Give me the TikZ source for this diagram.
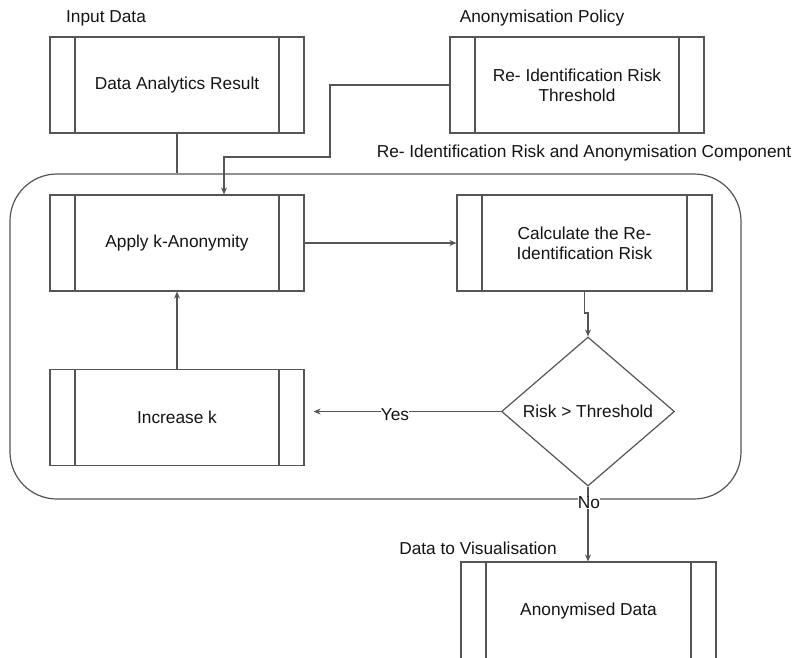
\documentclass[tikz,border=0pt]{standalone}
\usepackage{fontspec}
\setmainfont{Liberation Sans}
\usetikzlibrary{shapes.geometric,arrows.meta,calc}
\definecolor{lc}{RGB}{85,85,85}
\definecolor{tc}{RGB}{20,20,20}
\tikzset{
  procbox/.style={draw=lc, line width=1.2pt, minimum width=254pt, minimum height=96pt, inner sep=0pt,
    align=center, text=tc, font=\fontsize{17.3pt}{20pt}\selectfont,
    path picture={
      \draw[lc, line width=1.2pt] ([xshift=25pt]path picture bounding box.north west) -- ([xshift=25pt]path picture bounding box.south west);
      \draw[lc, line width=1.2pt] ([xshift=-25pt]path picture bounding box.north east) -- ([xshift=-25pt]path picture bounding box.south east);
    }},
  lbl/.style={text=tc, font=\fontsize{17.3pt}{20pt}\selectfont, inner sep=1pt},
  conn/.style={draw=lc, line width=1.2pt},
  arr/.style={conn, -{Stealth[length=7pt,width=6pt]}},
}
\begin{document}
\begin{tikzpicture}[x=1pt,y=-1pt]
\useasboundingbox[fill=white] (0,0) rectangle (792,657);
% container
\node[draw=lc, line width=1.2pt, rounded corners=47pt, minimum width=731pt, minimum height=325pt, inner sep=0pt] (comp) at (375.5,336.5) {};
\node[lbl] (complbl) at (584,153) {Re- Identification Risk and Anonymisation Component};
% boxes
\node[procbox] (dar) at (177,85) {Data Analytics Result};
\node[lbl] (darlbl) at (106,18) {Input Data};
\node[procbox] (thr) at (577,85) {Re- Identification Risk\\Threshold};
\node[lbl] (thrlbl) at (542,18) {Anonymisation Policy};
\node[procbox] (apply) at (177,243) {Apply k-Anonymity};
\node[procbox, minimum width=255pt] (calc) at (584.5,243) {Calculate the Re-\\Identification Risk};
\node[procbox] (inc) at (177,417.5) {Increase k};
\node[diamond, draw=lc, line width=1.2pt, minimum width=173pt, minimum height=149pt, inner sep=0pt] (dia) at (588,411.5) {};
\node[lbl] (diat) at (dia) {Risk > Threshold};
\node[procbox, minimum width=255pt, minimum height=98pt] (anon) at (588.5,611) {Anonymised Data};
\node[lbl] (anonlbl) at (478,548) {Data to Visualisation};
% connectors
\draw[conn] (dar.south) -- (dar.south |- comp.north);
\coordinate (p1) at (330,157);
\draw[arr] (thr.west) -| (p1) -| ([xshift=47pt]apply.north);
\draw[arr] (apply.east) -- (calc.west);
\coordinate (p2) at (584.5,313);
\draw[arr] (calc.south) -- (p2) -| (dia.north);
\draw[arr, shorten >=9pt] (dia.west) -- (dia.west -| inc.east);
\node[lbl, fill=white, inner sep=0pt] (yes) at (395,415) {Yes};
\draw[arr] (inc.north) -- (apply.south);
\draw[arr] (dia.south) -- (dia.south |- anon.north);
\node[lbl, fill=white, inner sep=0pt] (no) at (589,503) {No};
\end{tikzpicture}
\end{document}
